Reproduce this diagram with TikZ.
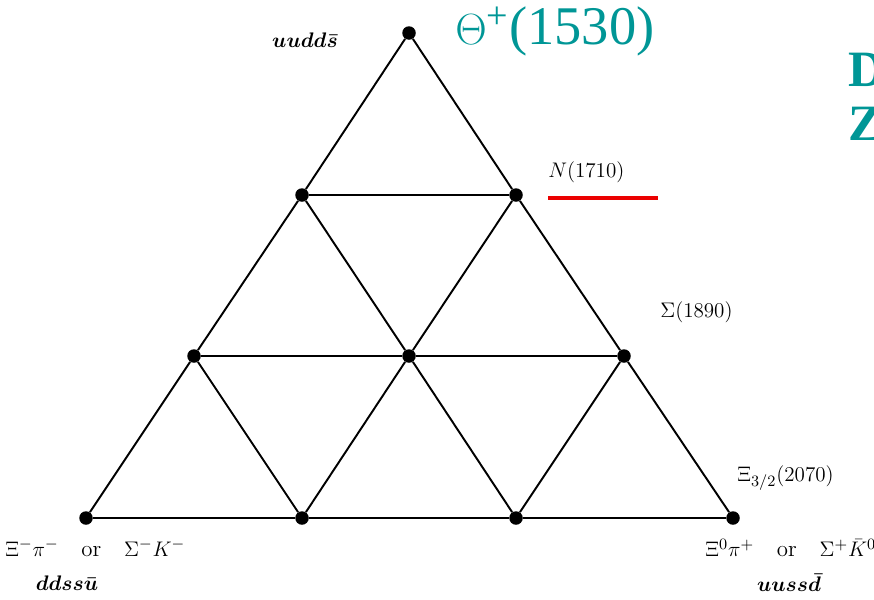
\documentclass[tikz,border=0pt]{standalone}
\usepackage{amsmath,amssymb}
\usepackage{fontspec}
\usepackage{xcolor}
\usetikzlibrary{positioning}
\newfontfamily\timesfont{Liberation Serif}
\definecolor{thetateal}{RGB}{0,150,150}
\definecolor{barred}{RGB}{235,0,0}

\begin{document}
\begin{tikzpicture}[x=0.02cm, y=-0.02cm,
  dot/.style={circle, fill=black, inner sep=0pt, minimum size=0.27cm},
  edge/.style={line width=1.1pt, black},
  quark/.style={font=\fontsize{11.5}{13}\selectfont\boldmath, inner sep=0pt},
  state/.style={font=\fontsize{13}{15}\selectfont, anchor=west, inner sep=0pt},
  big/.style={font=\fontsize{31}{34}\selectfont\timesfont, text=thetateal, anchor=west, inner sep=0pt},
  underline/.style={line width=2.8pt, barred},
]
\useasboundingbox (0,0) rectangle (874,599);
\clip (0,0) rectangle (874,599);

% weight diagram vertices
\node[dot] (t)  at (409,33) {};
\node[dot] (n1) at (302,195) {};
\node[dot] (n2) at (516,195) {};
\node[dot] (s1) at (194,356) {};
\node[dot] (s2) at (409,356) {};
\node[dot] (s3) at (624,356) {};
\node[dot] (x1) at (86,518) {};
\node[dot] (x2) at (302,518) {};
\node[dot] (x3) at (516,518) {};
\node[dot] (x4) at (733,518) {};

% rows
\draw[edge] (n1) -- (n2);
\draw[edge] (s1) -- (s2) -- (s3);
\draw[edge] (x1) -- (x2) -- (x3) -- (x4);
% left-leaning
\draw[edge] (t) -- (n1) -- (s1) -- (x1);
\draw[edge] (n2) -- (s2) -- (x2);
\draw[edge] (s3) -- (x3);
% right-leaning
\draw[edge] (t) -- (n2) -- (s3) -- (x4);
\draw[edge] (n1) -- (s2) -- (x3);
\draw[edge] (s1) -- (x2);

% labels
\node[quark] (tq) at (305,40) {$uudd\bar{s}$};
\node[big] (theta) at (455,31) {$\Theta$\textsuperscript{+}(1530)};
\node[big, font=\fontsize{29}{32}\selectfont\timesfont\bfseries] (dd) at (848,70) {D};
\node[big, font=\fontsize{29}{32}\selectfont\timesfont\bfseries] (zz) at (848,124) {Z};
\node[state] (nlab) at (548,172) {$N(1710)$};
\coordinate (r1) at (548,198);
\coordinate (r2) at (658,198);
\draw[underline] (r1) -- (r2);
\node[state] (slab) at (660,312) {$\Sigma(1890)$};
\node[state] (xlab) at (737,478) {$\Xi_{3/2}(2070)$};
\node[state] (bl) at (5,548) {$\Xi^-\pi^-$\quad or\quad $\Sigma^-K^-$};
\node[quark] (blq) at (67,583) {$ddss\bar{u}$};
\node[state] (br) at (705,548) {$\Xi^0\pi^+$\quad or\quad $\Sigma^+\bar{K}^0$};
\node[quark] (brq) at (789,583) {$uuss\bar{d}$};
\end{tikzpicture}
\end{document}
